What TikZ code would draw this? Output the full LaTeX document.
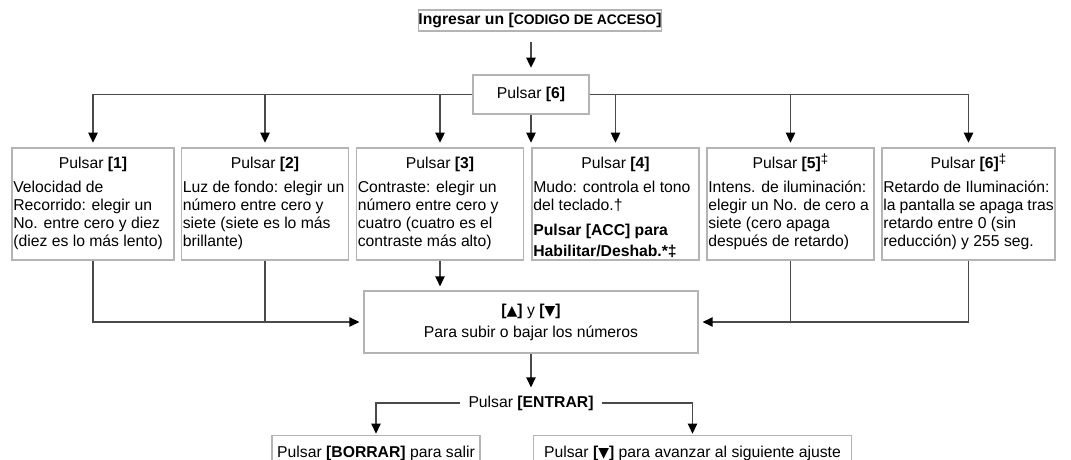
\documentclass[tikz,border=0pt]{standalone}
\usepackage{fontspec}
\setmainfont{Liberation Sans}
\newfontfamily\symfont{DejaVu Sans}
\usetikzlibrary{arrows.meta}
\definecolor{boxgray}{HTML}{B4B4B4}
\definecolor{linegray}{HTML}{4A4A4A}
\newcommand{\keytext}[3][123.25pt]{\parbox[c][82pt][t]{#1}{\centering\rule{0pt}{14pt}#2\par\vspace{4.5pt}\raggedright #3}}
\newcommand{\uptri}{{\symfont\fontsize{10.5}{10}\selectfont ▲}}
\newcommand{\downtri}{{\symfont\fontsize{10.5}{10}\selectfont ▼}}
\newcommand{\ddg}{\raisebox{3.5pt}{\fontsize{10}{10}\selectfont ‡}}
\begin{document}
\begin{tikzpicture}[x=0.75pt,y=-0.75pt,font=\fontsize{11.8}{13.5}\selectfont]
	\tikzstyle{keybox}=[draw=boxgray,line width=0.9pt,inner sep=1pt]
	\tikzstyle{flow}=[draw=linegray,line width=1pt,-{Triangle[length=7.5pt,width=7pt,color=black]}]
	\tikzstyle{tie}=[draw=linegray,line width=1pt]
	\useasboundingbox (0,0) rectangle (1071,460);
	\clip (0,0) rectangle (1071,460);
	% code and menu key
	\node[keybox,minimum width=182pt,minimum height=15.75pt,inner sep=0pt] (K-code) at (540,20.5) {\textbf{Ingresar un [{\fontsize{10.4}{10}\selectfont CODIGO DE ACCESO}]}};
	\node[keybox,minimum width=87pt,minimum height=29.25pt] (K-6) at (531,94.5) {Pulsar \textbf{[6]}};
	% the six options
	\node[keybox] (K-1) at (93,204) {\keytext[119.5pt]{Pulsar \textbf{[1]}}{Velocidad de\\ Recorrido: elegir un\\ No. entre cero y diez\\ (diez es lo más lento)}};
	\node[keybox] (K-2) at (265,204) {\keytext{Pulsar \textbf{[2]}}{Luz de fondo: elegir un\\ número entre cero y\\ siete (siete es lo más\\ brillante)}};
	\node[keybox] (K-3) at (440,204) {\keytext{Pulsar \textbf{[3]}}{Contraste: elegir un\\ número entre cero y\\ cuatro (cuatro es el\\ contraste más alto)}};
	\node[keybox] (K-4) at (615.5,204) {\keytext{Pulsar \textbf{[4]}}{Mudo: controla el tono\\ del teclado.†\par\vspace{3.5pt}{\bfseries\fontsize{11.8}{15.75}\selectfont Pulsar [ACC] para\\ Habilitar/Deshab.*‡\par}}};
	\node[keybox] (K-5) at (790.5,204) {\keytext{Pulsar \textbf{[5]}\ddg}{Intens. de iluminación:\\ elegir un No. de cero a\\ siete (cero apaga\\ después de retardo)}};
	\node[keybox] (K-6b) at (968.5,204) {\keytext[127.75pt]{Pulsar \textbf{[6]}\ddg}{Retardo de Iluminación:\\ la pantalla se apaga tras\\ retardo entre 0 (sin\\ reducción) y 255 seg.}};
	% scroll, enter and the two ways out
	\node[keybox,minimum width=250.5pt,minimum height=46.5pt,align=center,font=\fontsize{11.8}{16.5}\selectfont] (K-arrows) at (531,322) {\textbf{[\uptri]} y \textbf{[\downtri]}\\ Para subir o bajar los números};
	\node[inner xsep=6pt,inner ysep=3pt] (K-enter) at (531,403) {Pulsar \textbf{[ENTRAR]}};
	\node[keybox,anchor=north,minimum width=156pt,inner ysep=5pt,text height=11.5pt,text depth=4pt] (K-clear) at (376,435) {Pulsar \textbf{[BORRAR]} para salir};
	\node[keybox,anchor=north,minimum width=239pt,inner ysep=5pt,text height=11.5pt,text depth=4pt] (K-next) at (692.5,435) {Pulsar \textbf{[\downtri]} para avanzar al siguiente ajuste};
	\draw[flow,shorten <=8pt,shorten >=5pt] (K-6.north |- K-code.south) -- (K-6.north);
	\foreach \k in {1,2,3} \draw[flow,shorten >=3.5pt] (K-6.west) -| (K-\k.north);
	\foreach \k in {4,5,6b} \draw[flow,shorten >=3.5pt] (K-6.east) -| (K-\k.north);
	\draw[flow,shorten >=3.5pt] (K-6.south) -- (K-6.south |- K-1.north);
	\draw[flow,shorten >=3pt] (K-1.south) |- (K-arrows.west);
	\draw[tie] (K-2.south) -- (K-2.south |- K-arrows.west);
	\draw[flow,shorten >=3pt] (K-3.south) -- (K-3.south |- K-arrows.north);
	\draw[flow,shorten >=3pt] (K-6b.south) |- (K-arrows.east);
	\draw[tie] (K-5.south) -- (K-5.south |- K-arrows.east);
	\draw[flow,shorten >=3pt] (K-arrows.south) -- (K-enter.north);
	\draw[flow,shorten >=1pt] (K-enter.west) -| (K-clear.north);
	\draw[flow,shorten >=1pt] (K-enter.east) -| (K-next.north);
\end{tikzpicture}
\end{document}
